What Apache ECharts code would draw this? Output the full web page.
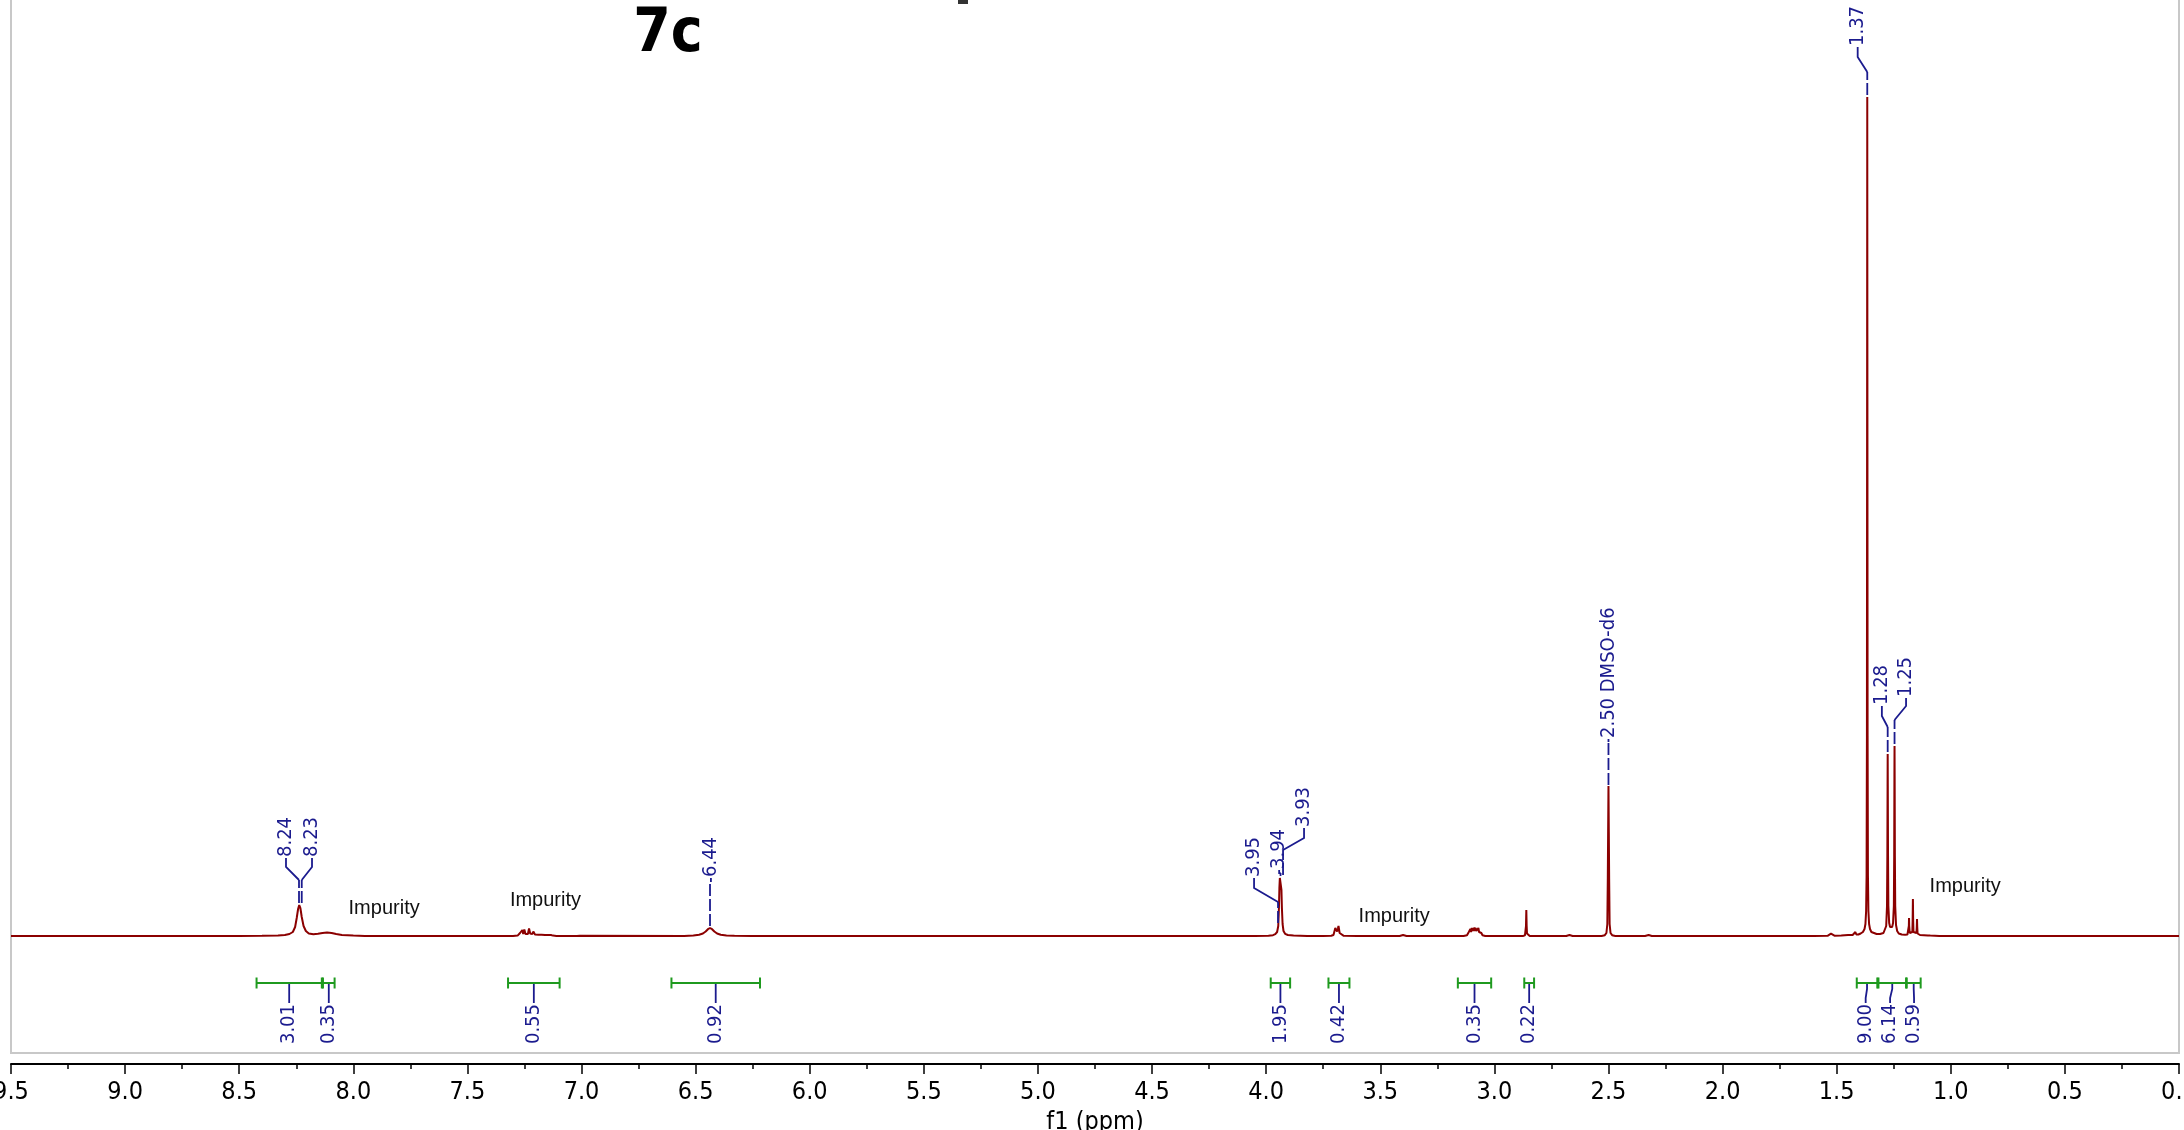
<!DOCTYPE html>
<html>
<head>
<meta charset="utf-8">
<script src="https://cdn.jsdelivr.net/npm/echarts@6/dist/echarts.min.js"></script>
<style>html,body{margin:0;padding:0;background:#fff;overflow:hidden}#c{width:2184px;height:1130px}</style>
</head>
<body>
<div id="c"></div>
<script>
// ---- DATA (ppm, intensity) ----
const spectrum = [
[9.50,0],[8.50,0],[8.40,0.2],[8.33,0.5],[8.30,1],[8.28,2],[8.265,4],[8.255,9],[8.248,18],[8.242,27],[8.237,31],[8.232,28],[8.226,19],[8.218,10],[8.208,5],[8.195,2.5],[8.175,1.8],[8.155,2.2],[8.135,3],[8.115,3.5],[8.095,3],[8.075,2],[8.05,1],[8.0,0.4],[7.95,0],
[7.30,0],[7.28,0.4],[7.2695,3],[7.265,1],[7.2594,6],[7.2555,2],[7.2506,6.5],[7.2455,2],[7.2401,4],[7.235,2],[7.2300,7.5],[7.225,2.5],[7.2200,3],[7.2155,2],[7.2112,4.5],[7.204,1.5],[7.1963,3],[7.189,1.2],[7.1818,3],[7.175,1.2],[7.1674,2.5],[7.160,1],[7.1525,3],[7.145,1],[7.1380,2.5],[7.134,1],[7.1306,1.5],[7.125,0.4],[7.11,0],[7.02,0],[7.015,0.3],[7.012,1.2],[7.008,0.3],[7.0,0],
[6.55,0],[6.51,0.6],[6.485,1.3],[6.468,2.5],[6.456,4.5],[6.446,6.8],[6.437,8],[6.428,6.8],[6.418,4.5],[6.406,2.5],[6.39,1.3],[6.365,0.6],[6.33,0.2],[6.25,0],
[4.05,0],[3.99,0.3],[3.97,0.8],[3.96,1.8],[3.952,4],[3.947,10],[3.944,28],[3.942,48],[3.940,58],[3.938,60],[3.935,58],[3.933,46],[3.931,28],[3.928,12],[3.924,5],[3.917,2.2],[3.905,1],[3.88,0.4],[3.82,0.1],[3.75,0],
[3.715,0.3],[3.705,1],[3.700,3],[3.697,8],[3.695,10],[3.692,7],[3.689,4.5],[3.686,7],[3.683,10],[3.681,8],[3.678,3],[3.672,1],[3.66,0.2],[3.60,0],
[3.415,0],[3.40,1],[3.385,0],
[3.135,0],[3.12,0.8],[3.112,4],[3.108,2.5],[3.105,7],[3.102,4],[3.099,8],[3.096,5],[3.093,8],[3.090,5],[3.087,8.5],[3.084,5],[3.082,8],[3.079,5],[3.076,7],[3.073,4.5],[3.070,8],[3.067,4],[3.064,5],[3.060,2],[3.057,3],[3.052,0.8],[3.04,0],
[2.875,0],[2.866,0.6],[2.863,2.5],[2.8615,10],[2.860,26],[2.8585,10],[2.857,2.5],[2.854,0.6],[2.845,0],
[2.685,0],[2.671,1],[2.657,0],
[2.53,0],[2.516,0.8],[2.509,3],[2.505,12],[2.503,56],[2.5015,104],[2.500,150],[2.4985,104],[2.497,56],[2.495,12],[2.491,3],[2.484,0.8],[2.47,0],
[2.34,0],[2.324,1],[2.31,0],
[1.60,0],[1.54,0.2],[1.525,2.3],[1.51,0.3],[1.48,0.6],[1.45,1],[1.43,1],[1.422,1.5],[1.418,4],[1.414,1.5],[1.405,1.5],[1.395,2.5],[1.385,4],[1.378,7],[1.374,12],[1.371,25],[1.369,60],[1.3675,200],[1.3665,600],[1.366,839],[1.3655,600],[1.3645,200],[1.363,60],[1.361,25],[1.358,12],[1.354,7],[1.348,4],[1.34,2.5],[1.325,2],[1.31,2],
[1.295,3],[1.288,5],[1.283,10],[1.2795,30],[1.278,80],[1.277,150],[1.2765,182],[1.276,150],[1.275,80],[1.2735,30],[1.270,13],[1.266,9],[1.2615,7.5],[1.257,9],[1.253,13],[1.2495,30],[1.248,80],[1.247,160],[1.2465,190],[1.246,160],[1.245,80],[1.2435,30],[1.240,11],[1.235,5],[1.228,2.5],[1.215,1.5],
[1.20,1.2],[1.19,1.5],[1.1855,3],[1.1838,10],[1.183,18],[1.1822,10],[1.180,3],[1.174,2.5],[1.1685,4],[1.1672,15],[1.166,37],[1.1648,15],[1.1635,4],[1.156,2.5],[1.1505,3],[1.149,9],[1.148,17],[1.147,9],[1.1455,2.5],[1.135,1],[1.10,0.6],[1.095,2],[1.09,0.4],[1.05,0.1],[1.0,0],[0.0,0]
];

const peakLabelPpm  = [8.238, 8.226, 6.437, 3.948, 3.937, 3.926, 2.500, 1.366, 1.2765, 1.2465];
const peakLabelText = ['8.24','8.23','6.44','3.95','3.94','3.93','2.50 DMSO-d6','1.37','1.28','1.25'];

const integralFrom  = [8.424, 8.133, 7.322, 6.606, 3.980, 3.727, 3.160, 2.869, 1.412, 1.317, 1.193];
const integralTo    = [8.138, 8.082, 7.096, 6.218, 3.895, 3.635, 3.014, 2.826, 1.322, 1.196, 1.132];
const integralValue = ['3.01','0.35','0.55','0.92','1.95','0.42','0.35','0.22','9.00','6.14','0.59'];

const impurityText = ['Impurity','Impurity','Impurity','Impurity'];
const impurityPpm  = [7.865, 7.158, 3.439, 0.937];
const impurityY    = [28, 36, 20, 50];

const xTickMin = 0, xTickMax = 9.5, xTickStep = 0.5;

// ---- LAYOUT (label geometry, intensity units / ppm) ----
// [textPpm, lineEnd, elbow, knee, textBottom]
const peakLabelLayout = [
  [8.295, 33, 56, 69, 77],
  [8.181, 33, 56, 69, 77],
  [6.433, 10, 55, 55, 57],
  [4.053, 13, 34, 48, 57],
  [3.943, 60, 63, 63, 65],
  [3.834, 61, 86, 98, 107],
  [2.500, 151, 194, 194, 196],
  [1.408, 841, 864, 879, 888],
  [1.302, 184, 209, 220, 229],
  [1.196, 192, 216, 230, 237]
];
const integralLabelPpm = [8.281, 8.1075, 7.209, 6.412, 3.9375, 3.681, 3.087, 2.8475, 1.373, 1.266, 1.161];
const integralBarY = -47, integralTextTop = -68;

const BLUE = '#1b1b8e', GREEN = '#1f9a1f', RED = '#8b0000';
const NUMFONT = '"DejaVu Sans Condensed", "DejaVu Sans", sans-serif';
const SANS = '"Liberation Sans", Arial, sans-serif';

const chart = echarts.init(document.getElementById('c'), null, {renderer: 'canvas'});

function peakLabelItem(params, api) {
  const i = params.dataIndex;
  const L = peakLabelLayout[i];
  const p = peakLabelPpm[i];
  const P1 = api.coord([p, L[1]]);
  const P2 = api.coord([p, L[2]]);
  const P3 = api.coord([L[0], L[3]]);
  const P4 = api.coord([L[0], L[4]]);
  return {
    type: 'group',
    children: [
      {type: 'line', shape: {x1: P1[0], y1: P1[1], x2: P2[0], y2: P2[1]},
       style: {stroke: BLUE, lineWidth: 1.8, lineDash: [12, 3]}},
      {type: 'polyline', shape: {points: [P2, P3, [P4[0], P4[1] - 1]]},
       style: {stroke: BLUE, lineWidth: 1.8, fill: null}},
      {type: 'text', x: P4[0], y: P4[1] - 2, rotation: Math.PI / 2,
       style: {text: peakLabelText[i], fill: BLUE, fontSize: 20, fontFamily: NUMFONT,
               align: 'left', verticalAlign: 'middle'}}
    ]
  };
}

function integralItem(params, api) {
  const i = params.dataIndex;
  const A = api.coord([integralFrom[i], integralBarY]);
  const B = api.coord([integralTo[i], integralBarY]);
  const cx = (A[0] + B[0]) / 2;
  const T = api.coord([integralLabelPpm[i], integralTextTop]);
  const y = A[1];
  return {
    type: 'group',
    children: [
      {type: 'line', shape: {x1: A[0], y1: y, x2: B[0], y2: y}, style: {stroke: GREEN, lineWidth: 2}},
      {type: 'line', shape: {x1: A[0], y1: y - 5.5, x2: A[0], y2: y + 5.5}, style: {stroke: GREEN, lineWidth: 2}},
      {type: 'line', shape: {x1: B[0], y1: y - 5.5, x2: B[0], y2: y + 5.5}, style: {stroke: GREEN, lineWidth: 2}},
      {type: 'polyline', shape: {points: [[cx, y + 1], [cx, y + 6], [T[0], T[1] - 6], [T[0], T[1] - 1]]},
       style: {stroke: BLUE, lineWidth: 1.8, fill: null}},
      {type: 'text', x: T[0], y: T[1], rotation: Math.PI / 2,
       style: {text: integralValue[i], fill: BLUE, fontSize: 20, fontFamily: NUMFONT,
               align: 'right', verticalAlign: 'middle'}}
    ]
  };
}

function impurityItem(params, api) {
  const i = params.dataIndex;
  const P = api.coord([impurityPpm[i], impurityY[i]]);
  return {type: 'text', x: P[0], y: P[1],
    style: {text: impurityText[i], fill: '#111', fontSize: 20, fontFamily: SANS,
            align: 'center', verticalAlign: 'middle'}};
}

const option = {
  animation: false,
  backgroundColor: '#fff',
  grid: {left: 11, right: 5, top: -2, bottom: 77, show: true, borderColor: '#c8c8c8', borderWidth: 2,
         backgroundColor: 'transparent', containLabel: false, outerBoundsMode: 'none'},
  xAxis: {
    type: 'value', inverse: true, min: xTickMin, max: xTickMax, interval: xTickStep,
    offset: 11,
    name: 'f1 (ppm)', nameLocation: 'middle', nameGap: 46,
    nameTextStyle: {fontSize: 25, fontFamily: NUMFONT, color: '#000'},
    axisLine: {show: true, onZero: false, lineStyle: {color: '#000', width: 2}},
    axisTick: {show: true, length: 10, lineStyle: {color: '#000', width: 1.5}},
    minorTick: {show: true, splitNumber: 2, length: 5, lineStyle: {color: '#000', width: 1.5}},
    splitLine: {show: false},
    axisLabel: {show: true, margin: 16, fontSize: 25, fontFamily: NUMFONT, color: '#000',
                showMinLabel: true, showMaxLabel: true, hideOverlap: false,
                formatter: v => v.toFixed(1)}
  },
  yAxis: {type: 'value', min: -117, max: 938, show: false, splitLine: {show: false}},
  graphic: [
    {type: 'text', x: 668, y: 35, style: {text: '7c', fill: '#000', font: 'bold 60px "Liberation Sans Narrow", "DejaVu Sans Condensed", "Liberation Sans", sans-serif', align: 'center', verticalAlign: 'middle'}},
    {type: 'rect', shape: {x: 958, y: 0, width: 10, height: 4}, style: {fill: '#333'}}
  ],
  series: [
    {type: 'line', data: spectrum, showSymbol: false, symbol: 'none', clip: true,
     lineStyle: {color: RED, width: 2}, silent: true, z: 2},
    {type: 'custom', renderItem: peakLabelItem, clip: false, silent: true, z: 3,
     data: peakLabelPpm.map((p, i) => [p, peakLabelLayout[i][1]])},
    {type: 'custom', renderItem: integralItem, clip: false, silent: true, z: 3,
     data: integralFrom.map((p, i) => [(p + integralTo[i]) / 2, integralBarY])},
    {type: 'custom', renderItem: impurityItem, clip: false, silent: true, z: 3,
     data: impurityPpm.map((p, i) => [p, impurityY[i]])}
  ]
};
chart.setOption(option);
</script>
</body>
</html>
